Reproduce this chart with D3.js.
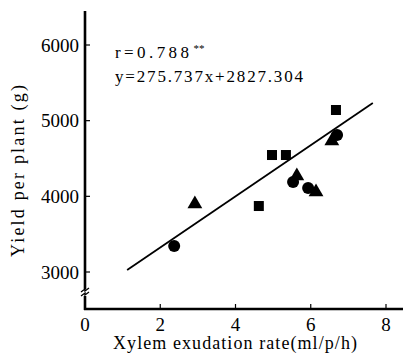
<!DOCTYPE html>
<html>
<head>
<meta charset="utf-8">
<script src="https://cdn.jsdelivr.net/npm/d3@7"></script>
<style>
  html, body { margin: 0; padding: 0; background: #fff; }
</style>
</head>
<body>
<div id="container"></div>
<script>
// values
const circleX = [2.37, 5.53, 5.93, 6.70];
const circleY = [3343, 4189, 4110, 4810];
const triangleX = [2.92, 5.63, 6.14, 6.56];
const triangleY = [3899, 4269, 4057, 4731];
const squareX = [4.62, 4.97, 5.34, 6.67];
const squareY = [3872, 4546, 4546, 5141];
const lineX = [1.12, 7.65];
const lineY = [3026, 5233];
const xTicks = [0, 2, 4, 6, 8];
const yTicks = [3000, 4000, 5000, 6000];
const rText = "r=0.788";
const eqText = "y=275.737x+2827.304";

const width = 403, height = 353;
const serif = "'Liberation Serif', 'Times New Roman', 'DejaVu Serif', serif";

const svg = d3.select('#container').append('svg')
  .attr('width', width).attr('height', height)
  .attr('font-family', serif);

const x = d3.scaleLinear().domain([0, 8]).range([85, 386]);
const y = d3.scaleLinear().domain([3000, 6000]).range([272, 45]);

const axisY0 = 309;

// axes lines
svg.append('line')
  .attr('x1', x(0)).attr('x2', x(0)).attr('y1', 11).attr('y2', axisY0 + 1)
  .attr('stroke', '#000').attr('stroke-width', 2.6);
svg.append('line')
  .attr('x1', x(0) - 1).attr('x2', 403).attr('y1', axisY0).attr('y2', axisY0)
  .attr('stroke', '#000').attr('stroke-width', 2.6);

// break mark on y axis
const brk = svg.append('g').attr('transform', `translate(${x(0)},293)`);
brk.append('rect').attr('x', -4).attr('y', -4).attr('width', 8).attr('height', 7).attr('fill', '#fff');
brk.append('path').attr('d', 'M-4,-1 L0,-4 L0,-2 L4,-5').attr('fill', 'none').attr('stroke', '#000').attr('stroke-width', 1.3);
brk.append('path').attr('d', 'M-4,3 L0,0 L0,2 L4,-1').attr('fill', 'none').attr('stroke', '#000').attr('stroke-width', 1.3);

// y ticks
svg.selectAll('.yt').data(yTicks).enter().append('line')
  .attr('x1', x(0)).attr('x2', x(0) + 5)
  .attr('y1', d => y(d)).attr('y2', d => y(d))
  .attr('stroke', '#000').attr('stroke-width', 1.2);
svg.selectAll('.yl').data(yTicks).enter().append('text')
  .attr('x', 79).attr('y', d => y(d) + 6.5)
  .attr('text-anchor', 'end').attr('font-size', 19)
  .text(d => d);

// x ticks
svg.selectAll('.xt').data(xTicks).enter().append('line')
  .attr('x1', d => x(d)).attr('x2', d => x(d))
  .attr('y1', axisY0).attr('y2', axisY0 - 5)
  .attr('stroke', '#000').attr('stroke-width', 1.2);
svg.selectAll('.xl').data(xTicks).enter().append('text')
  .attr('x', d => x(d)).attr('y', 331)
  .attr('text-anchor', 'middle').attr('font-size', 19)
  .text(d => d);

// axis titles
svg.append('text')
  .attr('x', 113).attr('y', 349)
  .attr('font-size', 18)
  .attr('textLength', 244).attr('lengthAdjust', 'spacing')
  .text('Xylem exudation rate(ml/p/h)');
svg.append('text')
  .attr('transform', 'translate(24,257) rotate(-90)')
  .attr('font-size', 18)
  .attr('textLength', 172).attr('lengthAdjust', 'spacing')
  .text('Yield per plant (g)');

// annotation
const r = svg.append('text').attr('x', 115).attr('y', 58).attr('font-size', 17);
r.append('tspan').attr('textLength', 74).attr('lengthAdjust', 'spacing').text(rText);
r.append('tspan').attr('dx', 1).attr('dy', -6).attr('font-size', 11).text('**');
svg.append('text').attr('x', 115).attr('y', 82).attr('font-size', 17)
  .attr('textLength', 188).attr('lengthAdjust', 'spacing')
  .text(eqText);

// regression line
svg.append('line')
  .attr('x1', x(lineX[0])).attr('y1', y(lineY[0]))
  .attr('x2', x(lineX[1])).attr('y2', y(lineY[1]))
  .attr('stroke', '#000').attr('stroke-width', 1.8);

// markers
const zip = (a, b) => a.map((v, i) => [v, b[i]]);

svg.selectAll('.sq').data(zip(squareX, squareY)).enter().append('rect')
  .attr('x', d => x(d[0]) - 5).attr('y', d => y(d[1]) - 5)
  .attr('width', 10).attr('height', 10).attr('fill', '#000');

svg.selectAll('.tri').data(zip(triangleX, triangleY)).enter().append('path')
  .attr('transform', d => `translate(${x(d[0])},${y(d[1])})`)
  .attr('d', d3.symbol().type(d3.symbolTriangle).size(95))
  .attr('fill', '#000');

svg.selectAll('.ci').data(zip(circleX, circleY)).enter().append('circle')
  .attr('cx', d => x(d[0])).attr('cy', d => y(d[1]))
  .attr('r', 6).attr('fill', '#000');
</script>
</body>
</html>
